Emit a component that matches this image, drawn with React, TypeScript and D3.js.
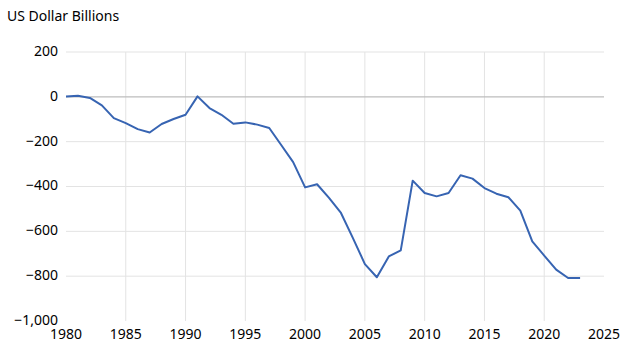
import React from 'react';
import * as d3 from 'd3';

const years = [
  1980, 1981, 1982, 1983, 1984, 1985, 1986, 1987, 1988, 1989,
  1990, 1991, 1992, 1993, 1994, 1995, 1996, 1997, 1998, 1999,
  2000, 2001, 2002, 2003, 2004, 2005, 2006, 2007, 2008, 2009,
  2010, 2011, 2012, 2013, 2014, 2015, 2016, 2017, 2018, 2019,
  2020, 2021, 2022, 2023,
];
const balance = [
  2, 5, -5, -38, -95, -117, -144, -159, -121, -99,
  -80, 2, -50, -80, -120, -114, -124, -139, -215, -291,
  -404, -390, -451, -518, -630, -746, -805, -712, -685, -374,
  -429, -444, -429, -350, -365, -407, -432, -448, -508, -645,
  -708, -771, -808, -808,
];
const yTicks = [200, 0, -200, -400, -600, -800, -1000];
const xTicks = [1980, 1985, 1990, 1995, 2000, 2005, 2010, 2015, 2020, 2025];

export default function App() {
  const width = 628;
  const height = 352;
  const font = "'Noto Sans', sans-serif";

  const x = d3.scaleLinear().domain([1980, 2025]).range([66, 604]);
  const y = d3.scaleLinear().domain([-1000, 200]).range([321, 52]);
  const fmt = d3.format(',');

  const line = d3.line<number>()
    .x((d, i) => x(years[i]))
    .y(d => y(d));

  return (
    <svg width={width} height={height} style={{ position: 'absolute', left: 0, top: 0, background: '#fff' }}>
      <text x={7} y={21} fontFamily={font} fontSize={14} fill="#000">US Dollar Billions</text>

      {/* grid */}
      {xTicks.filter(t => t > 1980 && t < 2025).map(t => (
        <line key={'vx' + t} x1={x(t)} x2={x(t)} y1={y(200)} y2={y(-1000)} stroke="#e3e3e3" strokeWidth={1} />
      ))}
      {yTicks.filter(t => t !== 0 && t !== -1000).map(t => (
        <line key={'hy' + t} x1={x(1980)} x2={x(2025)} y1={y(t)} y2={y(t)} stroke="#e3e3e3" strokeWidth={1} />
      ))}
      <line x1={x(1980)} x2={x(2025)} y1={y(0)} y2={y(0)} stroke="#bdbdbd" strokeWidth={1.3} />

      {yTicks.map(t => (
        <text key={'yl' + t} x={58} y={y(t) - 1} dy="0.35em" textAnchor="end" fontFamily={font} fontSize={14} fill="#000">
          {fmt(t)}
        </text>
      ))}
      {xTicks.map(t => (
        <text key={'xl' + t} x={x(t)} y={339} textAnchor="middle" fontFamily={font} fontSize={14} fill="#000">
          {t}
        </text>
      ))}

      <path d={line(balance) || ''} fill="none" stroke="#3764b2" strokeWidth={2} strokeLinejoin="round" />
    </svg>
  );
}
